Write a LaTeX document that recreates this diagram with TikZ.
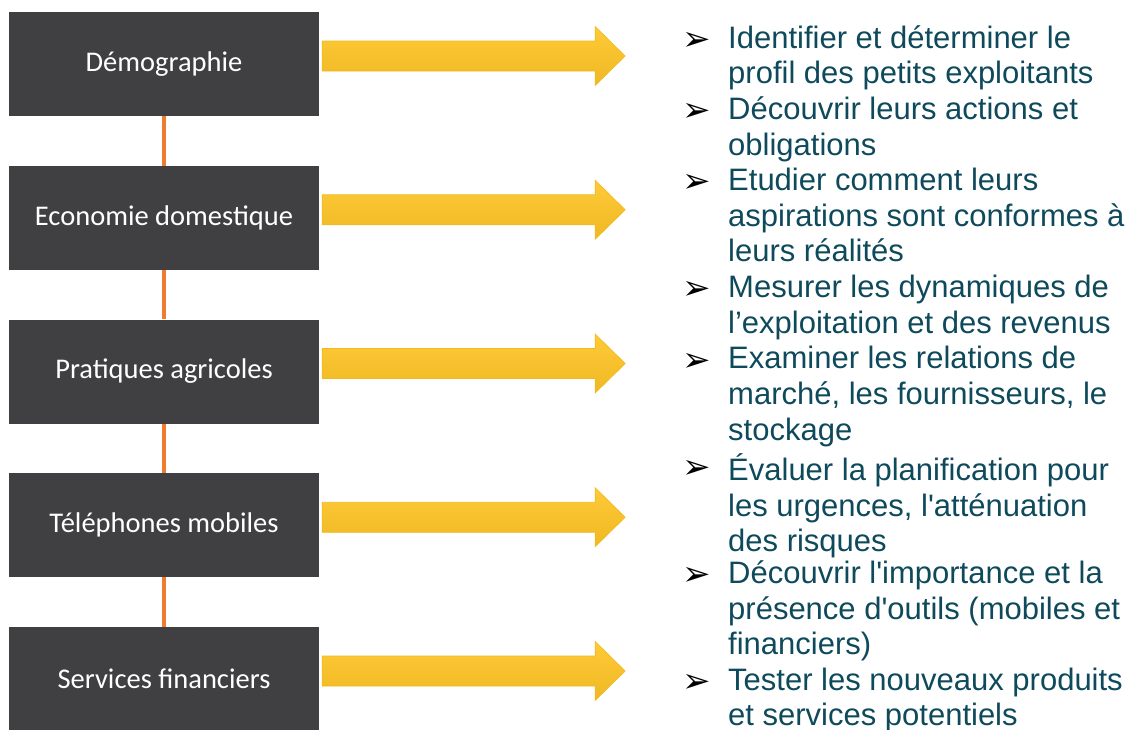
\documentclass[tikz,border=0pt]{standalone}
\usepackage{fontspec}
\setmainfont{Liberation Sans}
\newfontfamily\boxfont{Carlito}
\newfontfamily\symfont{DejaVu Sans}
\usetikzlibrary{positioning, calc}

\definecolor{boxgrey}{HTML}{404042}
\definecolor{linkorange}{HTML}{EE7D32}
\definecolor{goalteal}{HTML}{0E4A5B}
\definecolor{arrowtop}{HTML}{FFCA38}
\definecolor{arrowmid}{HTML}{FFC20E}
\definecolor{arrowbot}{HTML}{EFB824}
\definecolor{arrowedge}{HTML}{F2BA1C}

\tikzset{
    topic/.style={fill=boxgrey, minimum width=310pt, minimum height=104pt,
        inner sep=0pt, text=white, font=\boxfont\fontsize{28.5}{32}\selectfont},
    link/.style={draw=linkorange, line width=4pt},
    bigarrow/.style={draw=arrowedge, line width=0.6pt, top color=arrowtop,
        middle color=arrowmid, bottom color=arrowbot},
    % top of the first line sits 30pt above its baseline
    goal/.style={anchor=north west, align=left, inner sep=0pt, text=goalteal,
        font=\fontsize{31}{35.7}\selectfont, execute at begin node=\rule{0pt}{30pt}},
    pointer/.style={anchor=center, inner sep=0pt, font=\symfont\fontsize{34}{34}\selectfont}
}

\begin{document}
\begin{tikzpicture}[x=1pt, y=-1pt]
    \useasboundingbox (0,0) rectangle (1130,729);

    % themes on the left
    \foreach \name/\label [count=\i from 0] in {demo/Démographie,
            eco/Economie domestique, agri/Pratiques agricoles,
            mobile/Téléphones mobiles, finance/Services financiers}
        \node[topic] (\name) at (164, {64+153.75*\i}) {\label};

    \draw[link] (demo) -- (eco);
    \draw[link] (eco) -- (agri);
    \draw[link] (agri) -- (mobile);
    \draw[link] (mobile) -- (finance);

    % yellow arrows
    \foreach \name in {demo, eco, agri, mobile, finance}
        \path[bigarrow] ($(\name.east)+(3,-23)$) -- ++(273,0) -- ++(0,-14.5)
            -- ++(30,29.5) -- ++(-30,29.5) -- ++(0,-14.5) -- ++(-273,0) -- cycle;

    % objectives
    \foreach \ln/\txt in {1/{Identifier et déterminer le\\profil des petits exploitants},
            3/{Découvrir leurs actions et\\obligations},
            5/{Etudier comment leurs\\aspirations sont conformes à\\leurs réalités},
            8/{Mesurer les dynamiques de\\l’exploitation et des revenus},
            10/{Examiner les relations de\\marché, les fournisseurs, le\\stockage},
            13/{Évaluer la planification pour\\les urgences, l\textquotesingle atténuation\\des risques},
            16/{Découvrir l\textquotesingle importance et la\\présence d\textquotesingle outils (mobiles et\\financiers)},
            19/{Tester les nouveaux produits\\et services potentiels}} {
        \node[goal] (g\ln) at (728, {25+(\ln-1)*35.7}) {\txt};
        \node[pointer] (p\ln) at (697, {41+(\ln-1)*35.7}) {➢};
    }
\end{tikzpicture}
\end{document}
